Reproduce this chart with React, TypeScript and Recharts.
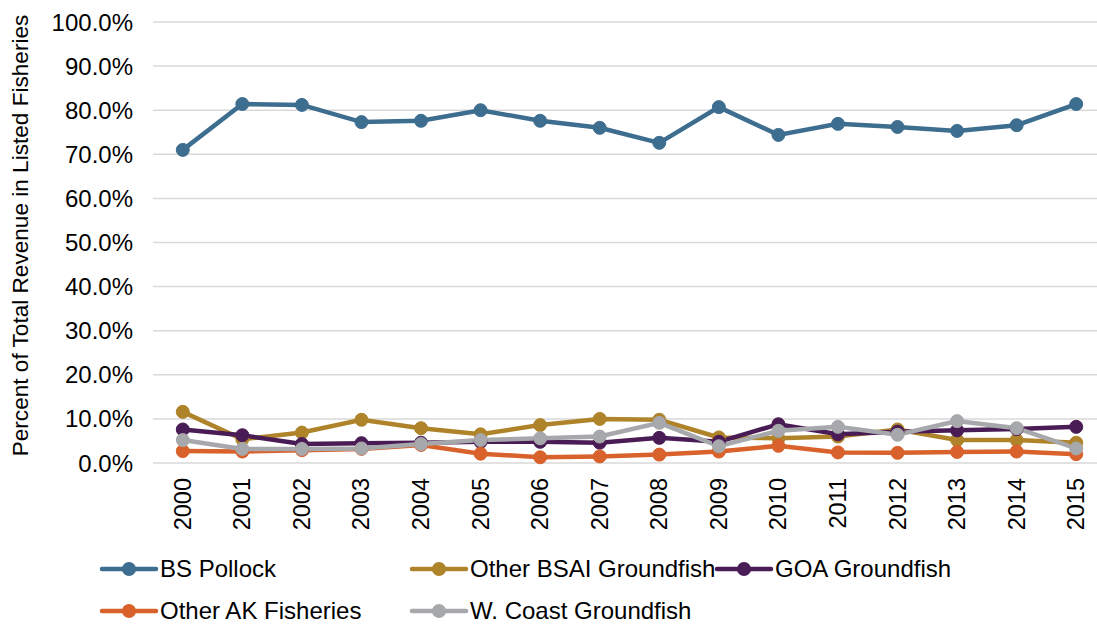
import React from 'react';
import {
  LineChart,
  Line,
  XAxis,
  YAxis,
  CartesianGrid,
  Legend
} from 'recharts';

// Year categories along the bottom
const years = ['2000', '2001', '2002', '2003', '2004', '2005', '2006', '2007',
  '2008', '2009', '2010', '2011', '2012', '2013', '2014', '2015'];

// Percent of total revenue
const bsPollock = [71.0, 81.4, 81.2, 77.3, 77.6, 80.0, 77.6, 76.0, 72.6, 80.7, 74.4, 76.9, 76.2, 75.3, 76.6, 81.4];
const otherBsai = [11.6, 5.4, 6.9, 9.8, 7.9, 6.5, 8.6, 10.0, 9.8, 5.8, 5.6, 6.0, 7.6, 5.2, 5.2, 4.6];
const goa = [7.6, 6.3, 4.3, 4.5, 4.6, 4.8, 4.8, 4.6, 5.7, 4.8, 8.8, 6.5, 7.1, 7.4, 7.7, 8.2];
const otherAk = [2.7, 2.6, 2.9, 3.2, 4.1, 2.1, 1.3, 1.5, 1.9, 2.6, 3.9, 2.4, 2.3, 2.5, 2.6, 2.0];
const wCoast = [5.2, 3.2, 3.2, 3.3, 4.3, 5.2, 5.6, 6.0, 9.1, 3.8, 7.3, 8.2, 6.4, 9.5, 7.9, 3.3];

const yTicks = [0, 10, 20, 30, 40, 50, 60, 70, 80, 90, 100];

const series = [
  { key: 'bsPollock', name: 'BS Pollock', color: '#3D6D8F', values: bsPollock },
  { key: 'otherBsai', name: 'Other BSAI Groundfish', color: '#AF8329', values: otherBsai },
  { key: 'goa', name: 'GOA Groundfish', color: '#4A1C55', values: goa },
  { key: 'otherAk', name: 'Other AK Fisheries', color: '#D8612C', values: otherAk },
  { key: 'wCoast', name: 'W. Coast Groundfish', color: '#A7A8AB', values: wCoast }
];

const data = years.map((year, i) => {
  const row: any = { idx: i, year };
  series.forEach(s => { row[s.key] = s.values[i]; });
  return row;
});

const yearIdx = years.map((_, i) => i);
const boundaryTicks = [...years.map((_, i) => i - 0.5), years.length - 0.5];

const FONT = '"Liberation Sans", Arial, sans-serif';
const GRID = '#D9D9D9';

const YearTick = ({ x, y, payload }: any) => (
  <text
    transform={`translate(${x + 8},${y + 15}) rotate(-90)`}
    textAnchor="end"
    fontSize={23.5}
    fontFamily={FONT}
    fill="#000"
  >
    {years[payload.value]}
  </text>
);

const YLabel = ({ viewBox }: any) => (
  <text
    transform={`translate(28,${viewBox.y + viewBox.height / 2 - 7}) rotate(-90)`}
    textAnchor="middle"
    fontSize={22.6}
    fontFamily={FONT}
    fill="#000"
  >
    Percent of Total Revenue in Listed Fisheries
  </text>
);

// legend laid out in two rows like the original
const legendRows = [
  [{ s: series[0], w: 310 }, { s: series[1], w: 305 }, { s: series[2], w: 0 }],
  [{ s: series[3], w: 310 }, { s: series[4], w: 0 }]
];

const LegendIcon = ({ color }: { color: string }) => (
  <svg width={60} height={20} style={{ display: 'block', flexShrink: 0 }}>
    <line x1={3} y1={10} x2={57} y2={10} stroke={color} strokeWidth={4.5} strokeLinecap="round" />
    <circle cx={30} cy={10} r={7} fill={color} />
  </svg>
);

const renderLegend = () => (
  <div style={{ fontFamily: FONT, fontSize: 24, color: '#000' }}>
    {legendRows.map((row, ri) => (
      <div key={ri} style={{ display: 'flex', height: 42, alignItems: 'center', paddingLeft: 99 }}>
        {row.map(({ s, w }) => (
          <div
            key={s.key}
            style={{ display: 'flex', alignItems: 'center', flexShrink: 0, width: w || undefined }}
          >
            <LegendIcon color={s.color} />
            <span style={{ marginLeft: 1, whiteSpace: 'nowrap' }}>{s.name}</span>
          </div>
        ))}
      </div>
    ))}
  </div>
);

export default function App() {
  return (
    <div style={{ position: 'absolute', left: 0, top: 0, width: 1097, height: 624, overflow: 'hidden', background: '#fff' }}>
      <LineChart
        width={1106}
        height={624}
        data={data}
        margin={{ top: 22, right: 0, left: 0, bottom: 81 }}
      >
        <CartesianGrid vertical={false} stroke={GRID} strokeWidth={1.5} />
        <XAxis
          xAxisId="marks"
          type="number"
          domain={[-0.5, years.length - 0.5]}
          allowDataOverflow
          ticks={boundaryTicks}
          interval={0}
          tick={false}
          tickSize={7}
          tickLine={{ stroke: GRID, strokeWidth: 1.5 }}
          axisLine={{ stroke: GRID, strokeWidth: 1.5 }}
          height={0}
        />
        <XAxis
          xAxisId={0}
          dataKey="idx"
          type="number"
          domain={[-0.5, years.length - 0.5]}
          allowDataOverflow
          ticks={yearIdx}
          interval={0}
          tick={<YearTick />}
          tickLine={false}
          axisLine={false}
          tickSize={0}
          tickMargin={0}
          height={80}
        />
        <YAxis
          width={153}
          domain={[0, 100]}
          ticks={yTicks}
          interval={0}
          tickFormatter={(v: number) => `${v.toFixed(1)}%`}
          tick={{ fontSize: 24, fontFamily: FONT, fill: '#000' }}
          tickLine={false}
          axisLine={false}
          tickMargin={14}
          label={<YLabel />}
        />
        <Legend
          layout="horizontal"
          verticalAlign="middle"
          align="center"
          wrapperStyle={{ top: 548, left: 0, width: 1097 }}
          content={renderLegend}
        />
        {series.map(s => (
          <Line
            key={s.key}
            dataKey={s.key}
            name={s.name}
            type="linear"
            stroke={s.color}
            strokeWidth={4.5}
            dot={{ r: 6.5, fill: s.color, stroke: s.color, strokeWidth: 1 }}
            activeDot={false}
            isAnimationActive={false}
          />
        ))}
      </LineChart>
    </div>
  );
}
